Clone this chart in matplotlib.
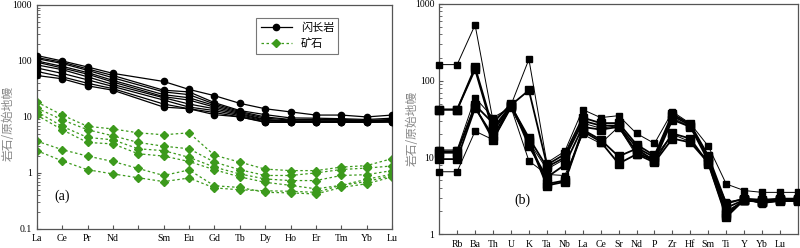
import numpy as np
import matplotlib
matplotlib.use("Agg")
import matplotlib.pyplot as plt
from matplotlib.ticker import LogLocator, NullFormatter

plt.rcParams['font.family'] = ['Liberation Serif', 'Noto Sans CJK SC']

# --- (a) REE pattern data ---
ree = ["La", "Ce", "Pr", "Nd", "Pm", "Sm", "Eu", "Gd", "Tb", "Dy", "Ho", "Er", "Tm", "Yb", "Lu"]
ree_black = ["La", "Ce", "Pr", "Nd", "Sm", "Eu", "Gd", "Tb", "Dy", "Ho", "Er", "Tm", "Yb", "Lu"]

diorite = [
    [125, 100, 78, 60, 43, 31, 24, 17.5, 14, 12.3, 10.8, 10.8, 10, 10.8],
    [115, 95, 72, 55, 30, 28, 18, 13, 11, 9.6, 9.5, 9.3, 9, 9.5],
    [110, 90, 68, 50, 28, 25, 17, 12.5, 10, 9.0, 9.0, 9.0, 8.7, 9],
    [100, 80, 62, 45, 25, 22, 16, 12, 9.5, 8.8, 8.8, 8.8, 8.5, 8.7],
    [95, 75, 58, 42, 23, 20, 15, 11.5, 9, 8.5, 8.5, 8.5, 8.3, 8.5],
    [85, 70, 52, 38, 22, 17, 14, 11, 8.8, 8.3, 8.3, 8.4, 8.3, 8.4],
    [75, 60, 46, 35, 20, 15, 13, 10.5, 8.5, 8.2, 8.2, 8.2, 8.2, 8.3],
    [65, 52, 40, 32, 17, 14, 12, 10, 8.2, 8, 8, 8, 8, 8.2],
    [55, 48, 36, 30, 15, 14, 11, 10, 8, 8, 8, 8.1, 8, 8.1],
]

ore = [
    [18.5, 10.8, 6.8, 6.1, 5.2, 4.8, 5.2, 2.07, 1.56, 1.17, 1.1, 1.1, 1.27, 1.35, 1.8],
    [14.4, 8.9, 5.9, 4.6, 3.5, 3.0, 2.7, 1.56, 1.14, 0.9, 0.9, 1.0, 1.15, 1.22, 1.33],
    [12.4, 6.8, 4.3, 3.9, 2.7, 2.5, 1.9, 1.27, 0.96, 0.78, 0.73, 0.73, 0.9, 0.93, 1.1],
    [10.8, 5.9, 3.5, 3.3, 2.2, 2.0, 1.6, 1.14, 0.85, 0.68, 0.6, 0.52, 0.6, 0.77, 0.95],
    [3.7, 2.6, 2.0, 1.6, 1.2, 0.9, 1.13, 0.59, 0.55, 0.45, 0.44, 0.42, 0.55, 0.64, 0.85],
    [2.5, 1.64, 1.14, 0.96, 0.82, 0.7, 0.81, 0.54, 0.5, 0.48, 0.47, 0.45, 0.6, 0.7, 0.9],
]

# --- (b) spider diagram data (first and last point repeat Rb / Lu) ---
spider = ["", "Rb", "Ba", "Th", "U", "K", "Ta", "Nb", "La", "Ce", "Sr", "Nd", "P",
          "Zr", "Hf", "Sm", "Ti", "Y", "Yb", "Lu", ""]

spider_vals = [
    [162, 162, 534, 30, 48, 190, 8.5, 12, 42, 33, 35, 20.5, 15.2, 39.5, 27.6, 14, 4.5, 3.7, 3.5, 3.5, 3.5],
    [42, 42, 150, 24, 48, 75, 8, 11, 33, 28, 28, 14.7, 10.6, 37, 27, 10.5, 2.5, 2.9, 2.8, 2.9, 2.9],
    [42, 42, 140, 22, 47, 18, 7.5, 10, 30, 26, 26, 13.5, 10, 35, 26, 10, 2.2, 2.8, 2.7, 2.8, 2.8],
    [12.5, 12.5, 60, 33, 45, 16, 7, 9.5, 28, 24, 26, 12, 9.5, 33, 25, 9.4, 2.0, 2.7, 2.6, 2.7, 2.7],
    [11.5, 11.5, 48, 28, 50, 14, 5.5, 8, 25, 23, 25, 11.6, 9, 31, 25, 9, 1.87, 2.8, 2.6, 2.7, 2.7],
    [9.5, 9.5, 44, 19, 47, 17, 4.5, 5, 23, 17, 10.3, 13, 9, 20.5, 17.6, 8.3, 1.66, 2.8, 2.6, 2.8, 2.8],
    [12, 12, 46, 17, 45, 16, 4.3, 4.8, 22, 16, 8.3, 11, 8.6, 17.6, 15.7, 8.5, 1.75, 2.8, 2.6, 2.75, 2.75],
    [6.5, 6.5, 22, 17, 45, 9, 6, 5.8, 20, 15.2, 25, 10.6, 10, 20, 16, 9, 2.6, 2.9, 2.5, 2.7, 2.7],
]
spider_big = [False, True, True, False, True, True, True, False]

fig = plt.figure(figsize=(8, 2.48), dpi=100)
ax1 = fig.add_axes([0.046, 0.077, 0.444, 0.903])
ax2 = fig.add_axes([0.549, 0.056, 0.4485, 0.928])

green = '#3c9a1c'
frame = '#555555'
cjk = ['Noto Sans CJK SC']

# (a)
x_black = [ree.index(e) for e in ree_black]
for i, row in enumerate(diorite):
    ax1.plot(x_black, row, color='black', lw=0.9, marker='o', ms=4.5,
             label='闪长岩' if i == 0 else None, zorder=3)
x_ree = np.arange(len(ree))
for i, row in enumerate(ore):
    ax1.plot(x_ree, row, color=green, lw=0.9, ls=(0, (2, 2)), marker='D', ms=4.5,
             mec=green, label='矿石' if i == 0 else None, zorder=2)

ax1.set_yscale('log')
ax1.set_ylim(0.1, 1000)
ax1.set_xlim(0, len(ree) - 1)
ax1.set_xticks(x_ree)
ax1.set_xticklabels([e if e != "Pm" else "" for e in ree])
ax1.set_yticks([0.1, 1, 10, 100, 1000])
ax1.set_yticklabels(['0.1', '1', '10', '100', '1000'])
ax1.set_ylabel('岩石/原始地幔', color='#888888', fontsize=8.5, family=cjk)
ax1.yaxis.set_label_coords(-0.062, 0.47)
ax1.text(0.05, 0.13, '(a)', transform=ax1.transAxes, fontsize=10)
leg = ax1.legend(loc='upper right', bbox_to_anchor=(0.865, 0.965), frameon=True,
                 fancybox=False, edgecolor=frame, handlelength=2.8,
                 prop={'family': cjk, 'size': 8})
leg.get_frame().set_linewidth(0.8)

# (b)
x_sp = np.arange(len(spider))
for row, big in zip(spider_vals, spider_big):
    ax2.plot(x_sp, row, color='black', lw=1.3 if big else 0.7, marker='s',
             ms=5.5 if big else 3.8, zorder=3, clip_on=False)

ax2.set_yscale('log')
ax2.set_ylim(1, 1000)
ax2.set_xlim(0, len(spider) - 1)
ax2.set_xticks(x_sp[1:-1])
ax2.set_xticklabels(spider[1:-1])
ax2.set_yticks([1, 10, 100, 1000])
ax2.set_yticklabels(['1', '10', '100', '1000'])
ax2.set_ylabel('岩石/原始地幔', color='#888888', fontsize=8.5, family=cjk)
ax2.yaxis.set_label_coords(-0.058, 0.46)
ax2.text(0.21, 0.13, '(b)', transform=ax2.transAxes, fontsize=10)

for ax in (ax1, ax2):
    for s in ax.spines.values():
        s.set_color(frame)
        s.set_linewidth(0.9)
    ax.yaxis.set_minor_locator(LogLocator(base=10, subs=np.arange(2, 10)))
    ax.yaxis.set_minor_formatter(NullFormatter())
    ax.tick_params(axis='both', which='major', direction='in', length=3,
                   width=0.8, colors=frame, labelcolor='black', labelsize=7)
    ax.tick_params(axis='y', which='minor', direction='in', length=1.8,
                   width=0.6, colors=frame)
    ax.tick_params(axis='x', pad=4)

fig.savefig('out.png', dpi=100)
